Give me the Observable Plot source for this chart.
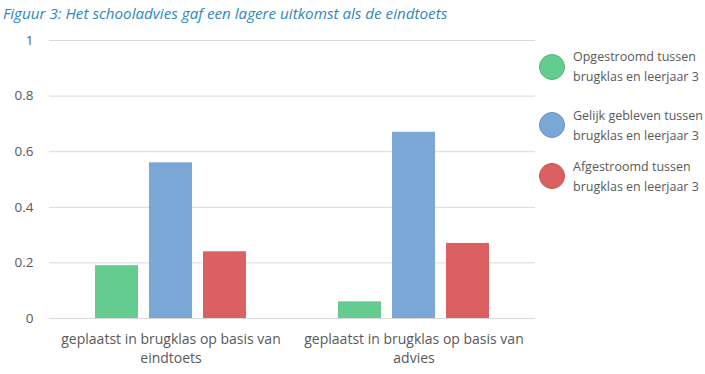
<!DOCTYPE html>
<html>
<head>
<meta charset="utf-8">
<script src="https://cdn.jsdelivr.net/npm/d3@7"></script>
<script src="https://cdn.jsdelivr.net/npm/@observablehq/plot@0.6"></script>
<style>
  html, body { margin: 0; padding: 0; background: #fff; }
  body { width: 705px; height: 374px; position: relative; overflow: hidden; font-family: "Open Sans", sans-serif; }
  #title { position: absolute; left: 3px; top: 3px; font-style: italic; font-size: 15.2px; color: #2E86C1; white-space: nowrap; }
  #chart { position: absolute; left: 0; top: 30px; }
  .dot { position: absolute; width: 24px; height: 24px; border-radius: 50%; }
  .lt { position: absolute; font-size: 12.5px; line-height: 20px; color: #595959; white-space: nowrap; }
</style>
</head>
<body>
<div id="title"></div>
<div id="chart"></div>
<div id="legend"></div>
<script>
const titleText = "Figuur 3: Het schooladvies gaf een lagere uitkomst als de eindtoets";
const groups = ["geplaatst in brugklas op basis van eindtoets", "geplaatst in brugklas op basis van advies"];
const groupLabels = ["geplaatst in brugklas op basis van\neindtoets", "geplaatst in brugklas op basis van\nadvies"];
const series = ["Opgestroomd tussen brugklas en leerjaar 3", "Gelijk gebleven tussen brugklas en leerjaar 3", "Afgestroomd tussen brugklas en leerjaar 3"];
const seriesLabels = ["Opgestroomd tussen\nbrugklas en leerjaar 3", "Gelijk gebleven tussen\nbrugklas en leerjaar 3", "Afgestroomd tussen\nbrugklas en leerjaar 3"];
const valuesEindtoets = [0.19, 0.56, 0.24];
const valuesAdvies = [0.06, 0.67, 0.27];
const yTicks = [0, 0.2, 0.4, 0.6, 0.8, 1];
const colors = ["#63CC8E", "#7BA7D6", "#DA6062"];
const borderColors = ["#4FB479", "#6690BE", "#C24F51"];

document.getElementById("title").textContent = titleText;

const data = [];
[valuesEindtoets, valuesAdvies].forEach((vals, gi) => {
  vals.forEach((v, si) => data.push({group: groups[gi], series: series[si], value: v}));
});

const chart = Plot.plot({
  width: 705,
  height: 344,
  marginLeft: 48,
  marginRight: 170,
  marginTop: 10,
  marginBottom: 56,
  style: {fontFamily: "Open Sans, sans-serif", color: "#595959", background: "transparent"},
  fx: {domain: groups, padding: 0, axis: null},
  x: {domain: series, paddingInner: 0.204, paddingOuter: 0.82, axis: null},
  y: {domain: [0, 1], axis: null},
  color: {domain: series, range: colors},
  marks: [
    Plot.ruleY(yTicks, {stroke: "#d9d9d9", strokeWidth: 1}),
    Plot.barY(data, {fx: "group", x: "series", y: "value", fill: "series"}),
    Plot.axisY({ticks: yTicks, label: null, tickSize: 0, tickPadding: 16, tickFormat: d => String(d), fontSize: 13.5, fill: "#595959"}),
    Plot.text(groups, {fx: d => d, text: d => groupLabels[groups.indexOf(d)], frameAnchor: "bottom", lineAnchor: "top", dy: 13, lineHeight: 1.3, fontSize: 14, fill: "#595959"})
  ]
});
document.getElementById("chart").appendChild(chart);

const legend = document.getElementById("legend");
const dotCenters = [67, 125, 176];
const textTops = [47, 106, 157];
series.forEach((s, i) => {
  const dot = document.createElement("div");
  dot.className = "dot";
  dot.style.left = (552 - 13) + "px";
  dot.style.top = (dotCenters[i] - 13) + "px";
  dot.style.background = colors[i];
  dot.style.border = "1px solid " + borderColors[i];
  legend.appendChild(dot);
  const t = document.createElement("div");
  t.className = "lt";
  t.style.left = "573px";
  t.style.top = textTops[i] + "px";
  t.innerHTML = seriesLabels[i].split("\n").join("<br>");
  legend.appendChild(t);
});
</script>
</body>
</html>
